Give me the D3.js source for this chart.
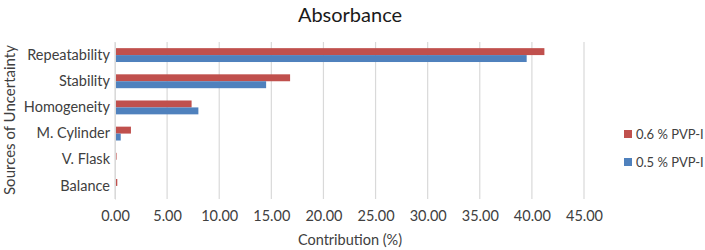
<!DOCTYPE html>
<html><head><meta charset="utf-8">
<script src="https://cdn.jsdelivr.net/npm/d3@7"></script>
<style>body{margin:0;background:#fff}svg{display:block}text{font-family:Lato,"Open Sans",sans-serif}</style>
</head><body><svg id="c" width="705" height="250"></svg>
<script>
const categories = ["Repeatability","Stability","Homogeneity","M. Cylinder","V. Flask","Balance"];
const series = ["0.6 % PVP-I","0.5 % PVP-I"];
const values06 = [41.2,16.8,7.35,1.53,0.15,0.22];
const values05 = [39.5,14.5,8.0,0.55,0.02,0.05];
const xTicks = [0,5,10,15,20,25,30,35,40,45];
const colors = ["#C0504D","#4F81BD"];

const svg = d3.select("#c");
const m = {l:115, r:584, t:42, b:199};
const x = d3.scaleLinear().domain([0,45]).range([m.l,m.r]);
const y = d3.scaleBand().domain(categories).range([m.t,m.b]).paddingInner(0.47).paddingOuter(0.235);
const y1 = d3.scaleBand().domain(series).range([0,y.bandwidth()]);
const ff = "Lato,'Open Sans',sans-serif";

svg.append("g").selectAll("line").data(xTicks).join("line")
  .attr("x1",d=>x(d)).attr("x2",d=>x(d)).attr("y1",m.t).attr("y2",m.b)
  .attr("stroke","#D9D9D9").attr("stroke-width",1.2);

const data = categories.map((c,i)=>({c, v:[values06[i],values05[i]]}));
const g = svg.append("g").selectAll("g").data(data).join("g")
  .attr("transform",d=>`translate(0,${y(d.c)})`);
g.selectAll("rect").data(d=>d.v.map((v,j)=>({v,s:series[j],j}))).join("rect")
  .attr("x",x(0)).attr("y",d=>y1(d.s)).attr("height",y1.bandwidth())
  .attr("width",d=>x(d.v)-x(0)).attr("fill",d=>colors[d.j]);

const xa = svg.append("g").attr("transform",`translate(0,${m.b})`)
  .call(d3.axisBottom(x).tickValues(xTicks).tickFormat(d3.format(".2f")).tickSize(0).tickPadding(12));
xa.select(".domain").remove();
xa.selectAll("text").attr("font-size",14.5).attr("fill","#404040").style("font-family",ff);

const ya = svg.append("g").attr("transform",`translate(${m.l},0)`)
  .call(d3.axisLeft(y).tickSize(0).tickPadding(5));
ya.select(".domain").attr("stroke","#D9D9D9");
ya.selectAll("text").attr("font-size",14.5).attr("fill","#404040").style("font-family",ff);

svg.append("text").attr("x",350).attr("y",22).attr("text-anchor","middle")
  .attr("font-size",20).attr("fill","#1a1a1a").text("Absorbance");
svg.append("text").attr("x",350).attr("y",245).attr("text-anchor","middle")
  .attr("font-size",14.5).attr("fill","#404040").text("Contribution (%)");
svg.append("text").attr("transform","translate(15,120) rotate(-90)").attr("text-anchor","middle")
  .attr("font-size",15).attr("fill","#404040").text("Sources of Uncertainty");

const lg = svg.append("g").selectAll("g").data(series).join("g")
  .attr("transform",(d,i)=>`translate(624,${134+i*28})`);
lg.append("rect").attr("x",0).attr("y",-4).attr("width",8).attr("height",8).attr("fill",(d,i)=>colors[i]);
lg.append("text").attr("x",12).attr("y",5).attr("font-size",13).attr("fill","#404040").text(d=>d);
</script></body></html>
